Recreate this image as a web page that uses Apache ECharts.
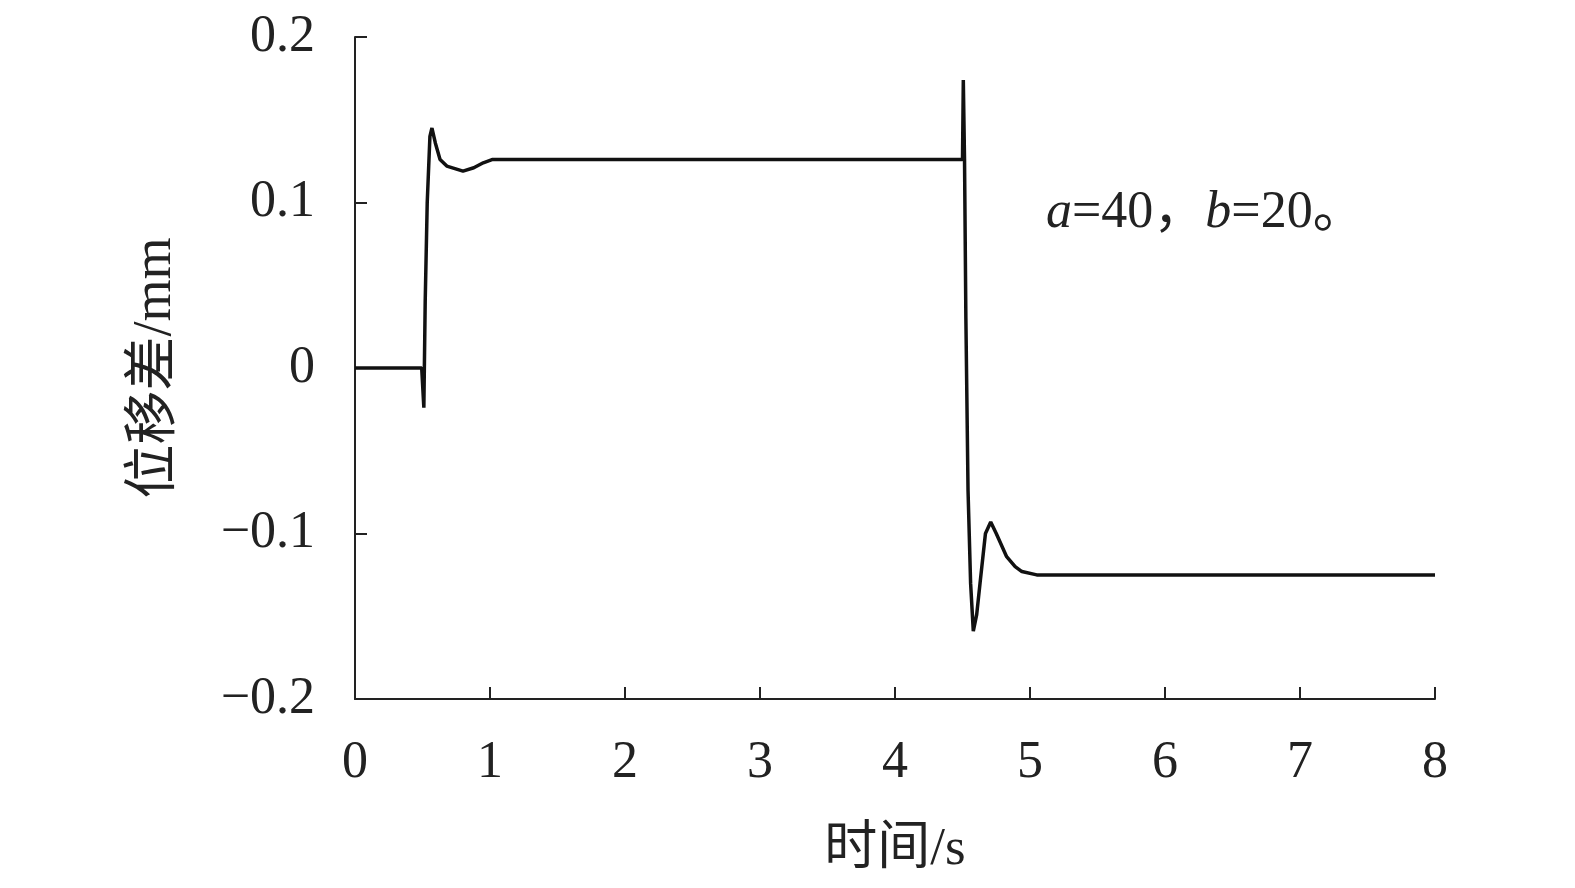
<!DOCTYPE html>
<html>
<head>
<meta charset="utf-8">
<script src="https://cdn.jsdelivr.net/npm/echarts@6/dist/echarts.min.js"></script>
<style>
html,body{margin:0;padding:0;background:#fff;}
#chart{width:1575px;height:888px;}
</style>
</head>
<body>
<div id="chart"></div>
<script>
// time (s)
const timeValues = [0, 0.494, 0.51, 0.52, 0.535, 0.555, 0.57, 0.595, 0.63, 0.68, 0.8, 0.88, 0.95, 1.02,
  4.5, 4.506, 4.515, 4.525, 4.541, 4.56, 4.58, 4.605, 4.63, 4.67, 4.709, 4.75, 4.827, 4.89, 4.94, 5.05, 8];
// displacement difference (mm)
const diffValues = [0, 0, -0.024, 0.04, 0.10, 0.14, 0.145, 0.136, 0.126, 0.122, 0.119, 0.121, 0.124, 0.126,
  0.126, 0.174, 0.126, 0.03, -0.074, -0.13, -0.159, -0.149, -0.13, -0.10, -0.093, -0.10, -0.114, -0.12, -0.123, -0.125, -0.125];
const xTicks = [0, 1, 2, 3, 4, 5, 6, 7, 8];
const yTicks = [-0.2, -0.1, 0, 0.1, 0.2];
const xName = '时间/s';
const yName = '位移差/mm';

const seriesData = timeValues.map((t, i) => [t, diffValues[i]]);
const serif = "'Liberation Serif','Times New Roman','Noto Sans CJK SC',serif";
const fmtMinus = v => {
  if (Math.abs(v) < 1e-9) return '0';
  const s = Math.abs(v).toFixed(1);
  return (v < 0 ? '\u2212' : '') + s;
};

const chart = echarts.init(document.getElementById('chart'), null, {renderer: 'canvas'});
chart.setOption({
  backgroundColor: '#fff',
  animation: false,
  grid: {left: 355, right: 140, top: 37, bottom: 189, containLabel: false, outerBoundsMode: 'none'},
  xAxis: {
    type: 'value', min: xTicks[0], max: xTicks[xTicks.length - 1], interval: 1,
    name: xName, nameLocation: 'middle', nameGap: 125,
    nameTextStyle: {fontFamily: serif, fontSize: 53, color: '#222'},
    axisLine: {onZero: false, lineStyle: {color: '#222', width: 2}},
    axisTick: {inside: true, length: 12, lineStyle: {color: '#222', width: 2}},
    axisLabel: {margin: 38, fontFamily: serif, fontSize: 52, color: '#222'},
    splitLine: {show: false}
  },
  yAxis: {
    type: 'value', min: yTicks[0], max: yTicks[yTicks.length - 1], interval: 0.1,
    name: yName, nameLocation: 'middle', nameGap: 172, nameRotate: 90,
    nameTextStyle: {fontFamily: serif, fontSize: 54, color: '#222'},
    axisLine: {show: true, onZero: false, lineStyle: {color: '#222', width: 2}},
    axisTick: {show: true, inside: true, length: 12, lineStyle: {color: '#222', width: 2}},
    axisLabel: {margin: 40, fontFamily: serif, fontSize: 52, color: '#222', formatter: fmtMinus},
    splitLine: {show: false}
  },
  graphic: [{
    type: 'text', left: 1046, top: 187,
    style: {
      text: '{i|a}=40，{i|b}=20。',
      rich: {
        i: {fontFamily: serif, fontStyle: 'italic', fontSize: 52, fill: '#222'}
      },
      fontFamily: serif, fontSize: 52, fill: '#222'
    }
  }],
  series: [{
    type: 'line', data: seriesData, showSymbol: false, smooth: false,
    lineStyle: {color: '#111', width: 3.5}
  }]
});
</script>
</body>
</html>
